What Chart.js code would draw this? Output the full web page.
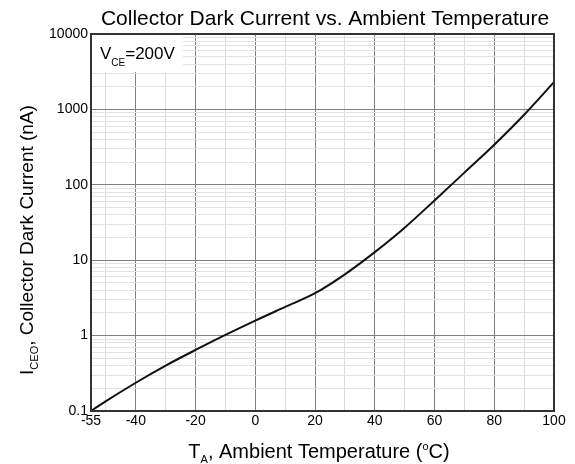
<!DOCTYPE html>
<html>
<head>
<meta charset="utf-8">
<script src="https://cdn.jsdelivr.net/npm/chart.js@4"></script>
<style>
  html, body { margin: 0; padding: 0; background: #fff; }
  #wrap { width: 575px; height: 464px; }
</style>
</head>
<body>
<div id="wrap"><canvas id="myChart" width="575" height="464"></canvas></div>
<script>
// values
const temps = [-55, -50, -40, -30, -20, -10, 0, 10, 20, 30, 40, 50, 60, 70, 80, 90, 100]
const darkCurrent = [0.1, 0.135, 0.237, 0.40, 0.645, 1.02, 1.58, 2.4, 3.65, 6.5, 12.8, 27, 62, 145, 340, 850, 2300]

const xTickLabels = [-55, -40, -20, 0, 20, 40, 60, 80, 100]
const xMinorTicks = [-50, -30, -10, 10, 30, 50, 70, 90]
const yTickLabels = [0.1, 1, 10, 100, 1000, 10000]

const FONT = "'Liberation Sans', Arial, sans-serif"

let points = []
for (let i = 0; i < temps.length; i++) {
  points.push({x: temps[i], y: darkCurrent[i]})
}

// draws text pieces in a row: [text, size, yOffset]
function drawPieces(ctx, pieces, x, y, align) {
  let total = 0
  for (let p of pieces) {
    ctx.font = p[1] + 'px ' + FONT
    total += ctx.measureText(p[0]).width
  }
  let cx = align == 'center' ? x - total / 2 : x
  ctx.textAlign = 'left'
  ctx.textBaseline = 'alphabetic'
  for (let p of pieces) {
    ctx.font = p[1] + 'px ' + FONT
    ctx.fillText(p[0], cx, y + p[2])
    cx += ctx.measureText(p[0]).width
  }
}

const textPlugin = {
  id: 'textPlugin',
  afterDraw(chart) {
    const ctx = chart.ctx
    const area = chart.chartArea
    ctx.save()
    ctx.fillStyle = '#000'

    // title
    drawPieces(ctx, [['Collector Dark Current vs. Ambient Temperature', 21, 0]], 325, 25, 'center')

    // condition box
    ctx.fillStyle = '#fff'
    ctx.fillRect(area.left + 1, area.top + 1, 91, 37)
    ctx.fillStyle = '#000'
    drawPieces(ctx, [['V', 17, 0], ['CE', 10, 7], ['=200V', 17, 0]], area.left + 9, 59, 'left')

    // frame
    ctx.strokeStyle = '#333'
    ctx.lineWidth = 2
    ctx.strokeRect(area.left, area.top, area.right - area.left, area.bottom - area.top)

    // x axis title
    drawPieces(ctx, [['T', 20, 0], ['A', 11, 5], [', Ambient Temperature (', 20, 0], ['o', 11, -8], ['C)', 20, 0]], 319, 458, 'center')

    // y axis title
    ctx.translate(33, 240)
    ctx.rotate(-Math.PI / 2)
    drawPieces(ctx, [['I', 19, 0], ['CEO', 11, 5], [', Collector Dark Current (nA)', 19, 0]], 0, 0, 'center')
    ctx.restore()
  }
}

const data = {
  datasets: [{
    label: 'ICEO',
    data: points,
    borderColor: '#111',
    borderWidth: 2,
    pointRadius: 0,
    cubicInterpolationMode: 'monotone',
    fill: false
  }]
}

const config = {
  type: 'line',
  data: data,
  plugins: [textPlugin],
  options: {
    responsive: false,
    animation: false,
    layout: {
      padding: {left: 0, top: 34, right: 21, bottom: 0}
    },
    plugins: {
      legend: { display: false },
      title: { display: false },
      tooltip: { enabled: false }
    },
    scales: {
      x: {
        type: 'linear',
        min: -55,
        max: 100,
        afterBuildTicks: (scale) => {
          let t = xTickLabels.concat(xMinorTicks).sort((a, b) => a - b)
          scale.ticks = t.map(v => ({value: v}))
        },
        afterFit: (scale) => { scale.height = 53 },
        ticks: {
          autoSkip: false,
          maxRotation: 0,
          padding: 2,
          color: '#000',
          font: {family: FONT, size: 14},
          callback: (v) => xTickLabels.includes(v) ? String(v) : ''
        },
        grid: {
          color: (c) => {
            let v = c.tick ? c.tick.value : 0
            if (v == -55 || v == 100) return 'rgba(0,0,0,0)'
            return xTickLabels.includes(v) ? '#808080' : '#dcdcdc'
          },
          lineWidth: 1,
          drawTicks: false
        },
        border: { display: false }
      },
      y: {
        type: 'logarithmic',
        min: 0.1,
        max: 10000,
        afterBuildTicks: (scale) => {
          let t = []
          for (let d = 0.1; d < 10000; d *= 10) {
            for (let m = 1; m < 10; m++) t.push(parseFloat((m * d).toPrecision(3)))
          }
          t.push(10000)
          scale.ticks = t.map(v => ({value: v}))
        },
        afterFit: (scale) => { scale.width = 91 },
        ticks: {
          autoSkip: false,
          padding: 3,
          color: '#000',
          font: {family: FONT, size: 14},
          callback: (v) => yTickLabels.includes(v) ? String(v) : ''
        },
        grid: {
          color: (c) => {
            let v = c.tick ? c.tick.value : 0
            if (v == 0.1 || v == 10000) return 'rgba(0,0,0,0)'
            return yTickLabels.includes(v) ? '#808080' : '#e2e2e2'
          },
          lineWidth: 1,
          drawTicks: false
        },
        border: { display: false }
      }
    }
  }
}

const myChart = new Chart(document.getElementById('myChart'), config)
</script>
</body>
</html>
